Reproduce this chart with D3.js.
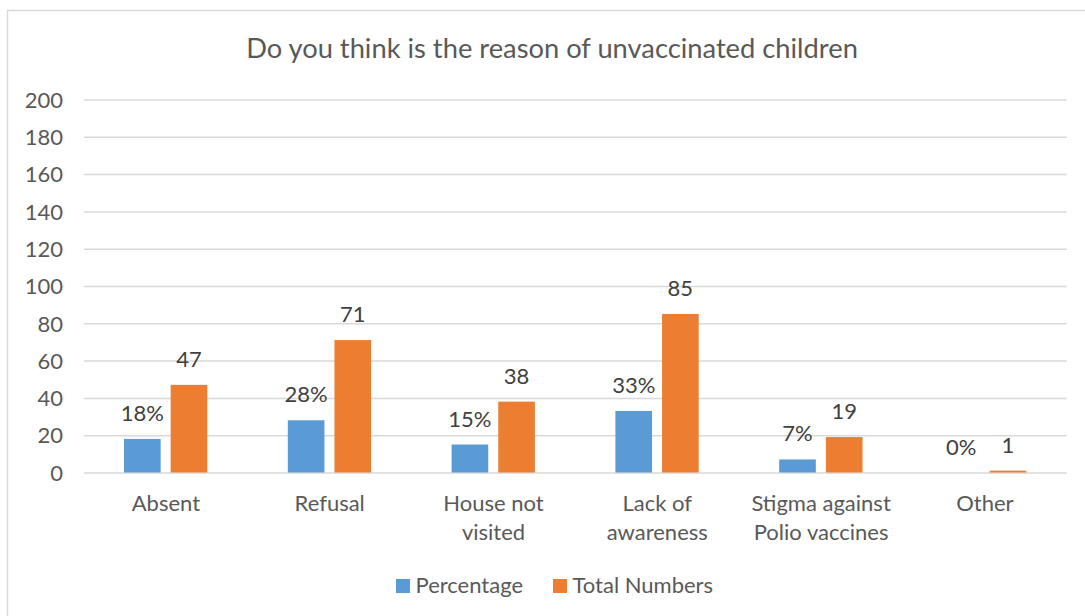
<!DOCTYPE html>
<html>
<head>
<meta charset="utf-8">
<script src="https://cdn.jsdelivr.net/npm/d3@7"></script>
<style>
  html, body { margin: 0; padding: 0; background: #fff; }
  svg { display: block; font-family: Lato, "Open Sans", sans-serif; }
</style>
</head>
<body>
<svg id="chart" width="1085" height="616"></svg>
<script>
// Survey answers: reasons given for unvaccinated children
const categories = [
  ["Absent"],
  ["Refusal"],
  ["House not", "visited"],
  ["Lack of", "awareness"],
  ["Stigma against", "Polio vaccines"],
  ["Other"]
];
const seriesNames = ["Percentage", "Total Numbers"];
const percentageValues = [18, 28, 15, 33, 7, 0];
const totalValues = [47, 71, 38, 85, 19, 1];
const yTicks = [0, 20, 40, 60, 80, 100, 120, 140, 160, 180, 200];
const seriesColors = ["#5B9BD5", "#ED7D31"];
const title = "Do you think is the reason of unvaccinated children";

const svg = d3.select("#chart");
const textSize = "22px";

// Outer chart frame
svg.append("rect")
  .attr("x", 7.5).attr("y", 10.5)
  .attr("width", 1090).attr("height", 620)
  .attr("fill", "#fff").attr("stroke", "#D9D9D9").attr("stroke-width", 1.5);

const plot = { left: 84, right: 1066.8, top: 99.5, bottom: 472.5 };

const catKeys = categories.map(c => c.join(" "));
const x0 = d3.scaleBand().domain(catKeys).range([plot.left, plot.right]).padding(0);
const x1 = d3.scaleBand().domain(seriesNames).range([40, 123.3]).paddingInner(0.215).paddingOuter(0);
const y = d3.scaleLinear().domain([0, 200]).range([plot.bottom, plot.top]);

// Title
svg.append("text")
  .attr("x", 552).attr("y", 58)
  .attr("text-anchor", "middle")
  .attr("fill", "#595959")
  .style("font-size", "27.3px")
  .text(title);

// Horizontal gridlines and value axis labels
const yAxis = d3.axisLeft(y).tickValues(yTicks).tickSize(-(plot.right - plot.left)).tickPadding(21);
const gy = svg.append("g").attr("transform", `translate(${plot.left},0)`).call(yAxis);
gy.select(".domain").remove();
gy.selectAll(".tick line").attr("stroke", "#D9D9D9").attr("stroke-width", 1.5);
gy.selectAll(".tick text")
  .attr("fill", "#595959")
  .style("font-size", textSize)
  .style("font-family", "Lato, 'Open Sans', sans-serif")
  .attr("dy", "0.35em");

// Category axis labels (wrapped onto lines)
const gx = svg.append("g");
categories.forEach((lines, i) => {
  const t = gx.append("text")
    .attr("text-anchor", "middle")
    .attr("fill", "#595959")
    .style("font-size", textSize);
  lines.forEach((ln, j) => {
    t.append("tspan")
      .attr("x", x0(catKeys[i]) + x0.bandwidth() / 2)
      .attr("y", plot.bottom + 38 + j * 29)
      .text(ln);
  });
});

// Bars
const rows = catKeys.map((k, i) => ({ key: k, values: [percentageValues[i], totalValues[i]] }));
const groups = svg.append("g").selectAll("g")
  .data(rows).join("g")
  .attr("transform", d => `translate(${x0(d.key)},0)`);

groups.selectAll("rect")
  .data(d => d.values.map((v, s) => ({ s, v })))
  .join("rect")
  .attr("x", d => x1(seriesNames[d.s]))
  .attr("width", x1.bandwidth())
  .attr("y", d => y(d.v))
  .attr("height", d => y(0) - y(d.v))
  .attr("fill", d => seriesColors[d.s]);

// Data labels
groups.selectAll("text")
  .data(d => d.values.map((v, s) => ({ s, v })))
  .join("text")
  .attr("x", d => x1(seriesNames[d.s]) + x1.bandwidth() / 2)
  .attr("y", d => y(d.v) - 18)
  .attr("text-anchor", "middle")
  .attr("fill", "#404040")
  .style("font-size", textSize)
  .text(d => d.s === 0 ? d.v + "%" : d.v);

// Legend
const legend = svg.append("g");
const legendItems = [
  { name: seriesNames[0], color: seriesColors[0], x: 396 },
  { name: seriesNames[1], color: seriesColors[1], x: 553 }
];
legendItems.forEach(it => {
  legend.append("rect")
    .attr("x", it.x).attr("y", 579)
    .attr("width", 14).attr("height", 14)
    .attr("fill", it.color);
  legend.append("text")
    .attr("x", it.x + 19.5).attr("y", 593)
    .attr("fill", "#595959")
    .style("font-size", textSize)
    .text(it.name);
});
</script>
</body>
</html>
